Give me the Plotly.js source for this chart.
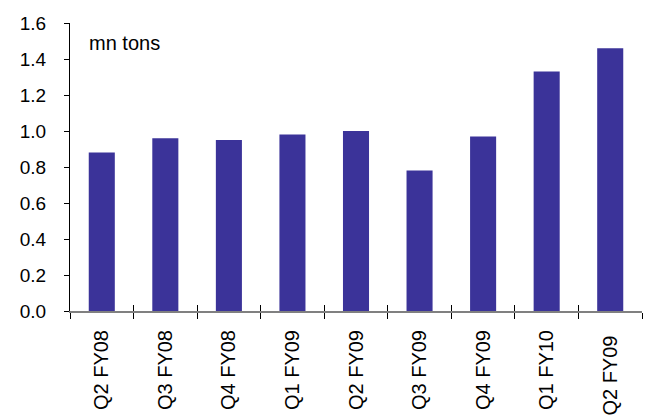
<!DOCTYPE html>
<html>
<head>
<meta charset="utf-8">
<script src="https://cdn.plot.ly/plotly-3.0.1.min.js"></script>
<style>
  html, body { margin: 0; padding: 0; background: #fff; }
  #chart { width: 647px; height: 416px; }
</style>
</head>
<body>
<div id="chart"></div>
<script>
// Quarterly volumes, million tons
const quarters = ["Q2 FY08", "Q3 FY08", "Q4 FY08", "Q1 FY09", "Q2 FY09", "Q3 FY09", "Q4 FY09", "Q1 FY10", "Q2 FY09 "];
const volumes = [0.88, 0.96, 0.95, 0.98, 1.00, 0.78, 0.97, 1.33, 1.46];
const yTicks = [0, 0.2, 0.4, 0.6, 0.8, 1.0, 1.2, 1.4, 1.6];
const yTickText = yTicks.map(v => v.toFixed(1));
const unitLabel = "mn tons";

const family = "Liberation Sans, Arial, sans-serif";
const yFont = { family: family, size: 19, color: "#000" };
const xFont = { family: family, size: 20, color: "#000" };
const noteFont = { family: family, size: 20, color: "#000" };

const trace = {
  type: "bar",
  x: quarters,
  y: volumes,
  marker: { color: "#3b3399", line: { width: 0 } },
  hoverinfo: "x+y"
};

// invisible twin trace so a second x axis can draw the inward half of the ticks
const twin = {
  type: "bar",
  x: quarters,
  y: volumes.map(() => null),
  xaxis: "x2",
  showlegend: false,
  hoverinfo: "skip"
};

const layout = {
  width: 647,
  height: 416,
  margin: { l: 70, r: 5, t: 23, b: 105 },
  paper_bgcolor: "#fff",
  plot_bgcolor: "#fff",
  font: yFont,
  showlegend: false,
  bargap: 0.59,
  xaxis: {
    type: "category",
    tickson: "boundaries",
    ticks: "outside",
    ticklen: 6,
    tickcolor: "#000",
    tickwidth: 1,
    showline: true,
    linecolor: "#808080",
    linewidth: 2,
    showgrid: false,
    zeroline: false,
    tickangle: -90,
    tickfont: xFont,
    ticklabelstandoff: 9
  },
  xaxis2: {
    type: "category",
    overlaying: "x",
    matches: "x",
    side: "bottom",
    tickson: "boundaries",
    ticks: "inside",
    ticklen: 6,
    tickcolor: "#000",
    tickwidth: 1,
    showticklabels: false,
    showline: false,
    showgrid: false,
    zeroline: false
  },
  yaxis: {
    range: [0, 1.6],
    tickvals: yTicks,
    ticktext: yTickText,
    ticks: "outside",
    ticklen: 5,
    tickcolor: "#000",
    tickwidth: 1,
    showline: true,
    linecolor: "#000",
    linewidth: 1,
    showgrid: false,
    zeroline: false,
    tickfont: yFont,
    ticklabelstandoff: 14
  },
  annotations: [{
    text: unitLabel,
    xref: "paper",
    yref: "paper",
    x: 0.03,
    y: 0.93,
    xanchor: "left",
    yanchor: "middle",
    showarrow: false,
    font: noteFont
  }]
};

Plotly.newPlot("chart", [trace, twin], layout, { displayModeBar: false, staticPlot: true });
</script>
</body>
</html>
